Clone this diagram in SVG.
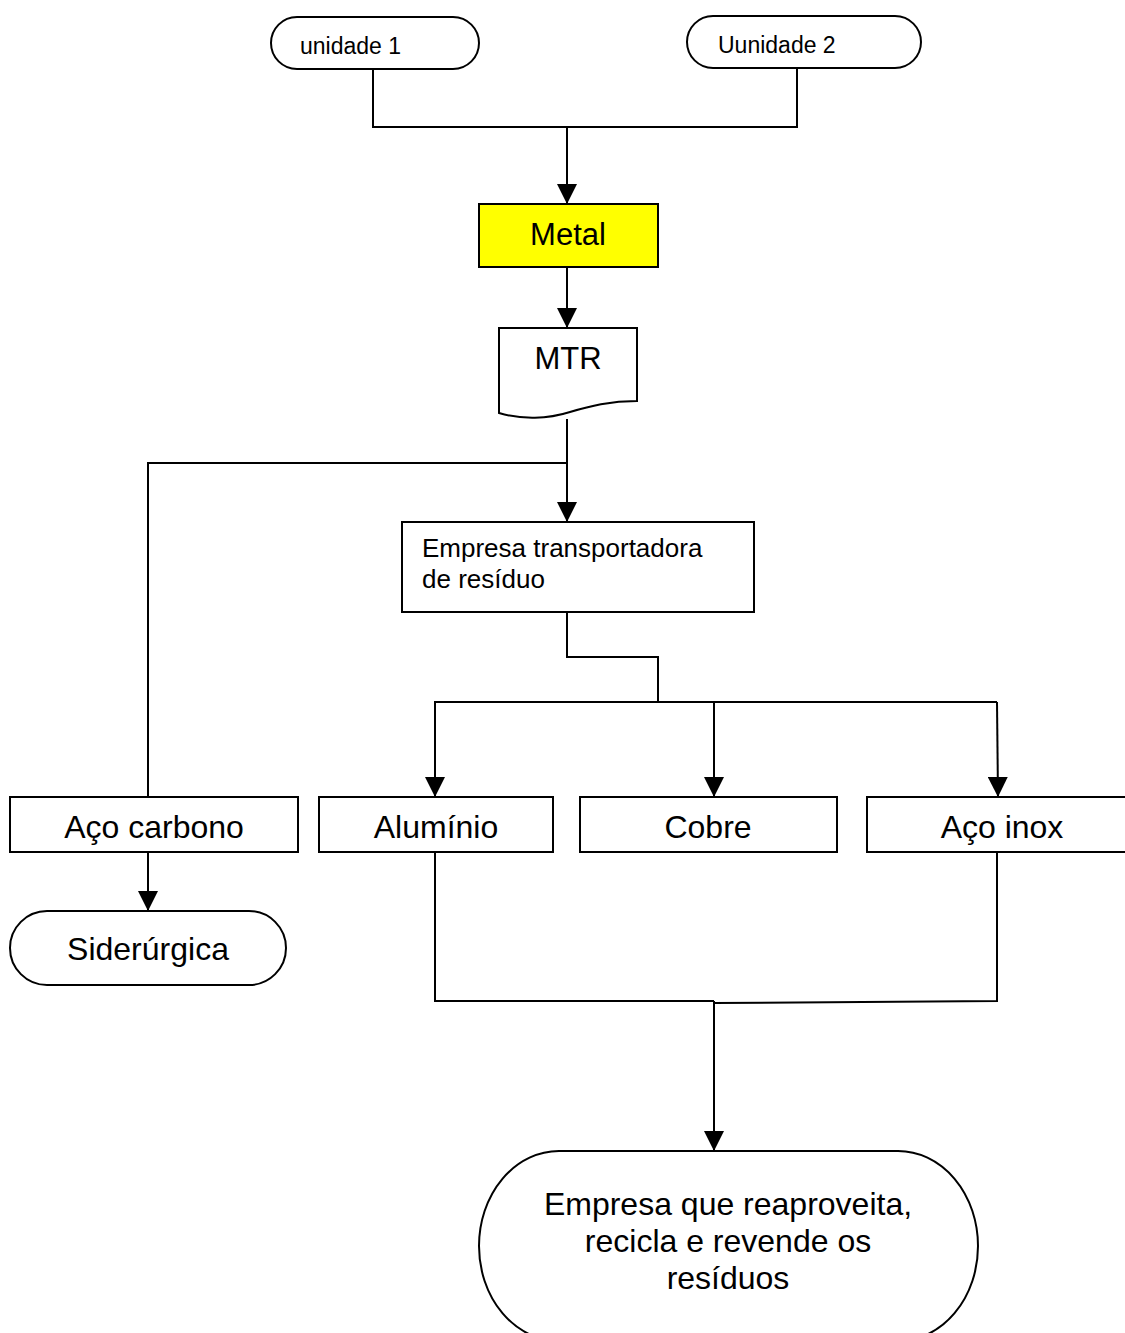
<svg xmlns="http://www.w3.org/2000/svg" width="1125" height="1333" viewBox="0 0 1125 1333">
  <style>
    .shape { fill: #ffffff; stroke: #000000; stroke-width: 2; }
    .metal { fill: #ffff00; stroke: #000000; stroke-width: 2; }
    .wire { fill: none; stroke: #000000; stroke-width: 2; }
    .lbl { font-family: "Liberation Sans", Arial, sans-serif; fill: #000000; }
    .mid { text-anchor: middle; }
  </style>
  <defs>
    <marker id="arrow" viewBox="0 0 20 20" refX="20" refY="10" markerWidth="20" markerHeight="20" markerUnits="userSpaceOnUse" orient="auto">
      <path d="M0,0 L20,10 L0,20 Z" fill="#000000"/>
    </marker>
  </defs>

  <rect width="1125" height="1333" fill="#ffffff"/>

  <!-- connectors -->
  <g id="connectors">
    <path class="wire" d="M373,69 V127 H797 V68"/>
    <path class="wire" d="M567,127 V204" marker-end="url(#arrow)"/>
    <path class="wire" d="M567,267 V328" marker-end="url(#arrow)"/>
    <path class="wire" d="M567,419 V463 H148 V797"/>
    <path class="wire" d="M567,463 V522" marker-end="url(#arrow)"/>
    <path class="wire" d="M567,612 V657 H658 V702"/>
    <path class="wire" d="M435,797 V702 H997"/>
    <path class="wire" d="M435,702 V797" marker-end="url(#arrow)"/>
    <path class="wire" d="M714,702 V797" marker-end="url(#arrow)"/>
    <path class="wire" d="M997,702 L998,797" marker-end="url(#arrow)"/>
    <path class="wire" d="M148,852 V911" marker-end="url(#arrow)"/>
    <path class="wire" d="M435,852 V1001 H714"/>
    <path class="wire" d="M997,852 V1001 L714,1003"/>
    <path class="wire" d="M714,1001 V1151" marker-end="url(#arrow)"/>
  </g>

  <g id="unidade1">
    <rect class="shape" x="271" y="17" width="208" height="52" rx="26" ry="26"/>
    <text class="lbl" x="300" y="54" font-size="23">unidade 1</text>
  </g>

  <g id="unidade2">
    <rect class="shape" x="687" y="16" width="234" height="52" rx="26" ry="26"/>
    <text class="lbl" x="718" y="53" font-size="23">Uunidade 2</text>
  </g>

  <g id="metal">
    <rect class="metal" x="479" y="204" width="179" height="63"/>
    <text class="lbl mid" x="568" y="245" font-size="31">Metal</text>
  </g>

  <g id="mtr">
    <path class="shape" d="M499,328 H637 V401 C610,401 590,406 570,412 C548,419 522,420 499,413 Z"/>
    <text class="lbl mid" x="568" y="369" font-size="31">MTR</text>
  </g>

  <g id="transportadora">
    <rect class="shape" x="402" y="522" width="352" height="90"/>
    <text class="lbl" x="422" y="557" font-size="26">Empresa transportadora</text>
    <text class="lbl" x="422" y="588" font-size="26">de resíduo</text>
  </g>

  <g id="aco-carbono">
    <rect class="shape" x="10" y="797" width="288" height="55"/>
    <text class="lbl mid" x="154" y="838" font-size="32">Aço carbono</text>
  </g>

  <g id="aluminio">
    <rect class="shape" x="319" y="797" width="234" height="55"/>
    <text class="lbl mid" x="436" y="838" font-size="32">Alumínio</text>
  </g>

  <g id="cobre">
    <rect class="shape" x="580" y="797" width="257" height="55"/>
    <text class="lbl mid" x="708" y="838" font-size="32">Cobre</text>
  </g>

  <g id="aco-inox">
    <rect class="shape" x="867" y="797" width="270" height="55"/>
    <text class="lbl mid" x="1002" y="838" font-size="32">Aço inox</text>
  </g>

  <g id="siderurgica">
    <rect class="shape" x="10" y="911" width="276" height="74" rx="37" ry="37"/>
    <text class="lbl mid" x="148" y="960" font-size="32">Siderúrgica</text>
  </g>

  <g id="reciclagem">
    <rect class="shape" x="479" y="1151" width="499" height="190" rx="80" ry="95"/>
    <text class="lbl mid" x="728" y="1215" font-size="32">Empresa que reaproveita,</text>
    <text class="lbl mid" x="728" y="1252" font-size="32">recicla e revende os</text>
    <text class="lbl mid" x="728" y="1289" font-size="32">resíduos</text>
  </g>
</svg>
